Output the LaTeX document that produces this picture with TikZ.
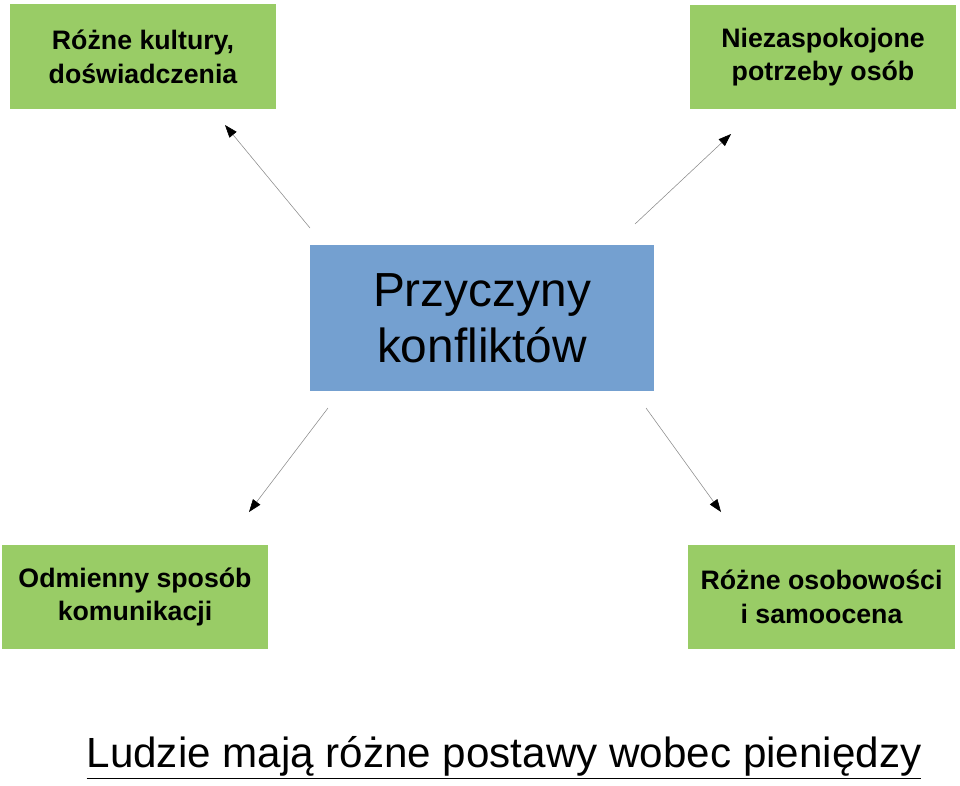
\documentclass[tikz,border=0pt]{standalone}
\usepackage{fontspec}
\setmainfont{Liberation Sans}
\usetikzlibrary{arrows.meta}
\definecolor{boxgreen}{RGB}{153,204,102}
\definecolor{boxblue}{RGB}{116,160,208}
\begin{document}
\begin{tikzpicture}[x=0.025cm, y=-0.025cm,
    greenbox/.style={fill=boxgreen, minimum width=6.65cm, minimum height=2.6cm,
      align=center, font=\fontsize{19}{24}\selectfont\bfseries},
    bluebox/.style={fill=boxblue, minimum width=8.6cm, minimum height=3.65cm,
      align=center, font=\fontsize{34}{40}\selectfont},
    arr/.style={draw=black!45, line width=0.4pt, -{Triangle[black, length=9pt, width=6.5pt]}}]
    \useasboundingbox (0,0) rectangle (960,785);
    % boxes
    \node[greenbox] (kult) at (143,56.5) {Różne kultury,\\doświadczenia};
    \node[greenbox] (potrz) at (823,57) {Niezaspokojone\\potrzeby osób};
    \node[bluebox] (przycz) at (482,318) {\raisebox{-3pt}{Przyczyny}\\\raisebox{-3pt}{konfliktów}};
    \node[greenbox] (komun) at (135,597) {Odmienny sposób\\komunikacji};
    \node[greenbox, minimum width=6.675cm] (osob) at (821.5,597) {Różne osobowości\\i samoocena};
    % arrow ends
    \coordinate (a1) at (310,228);
    \coordinate (b1) at (225,125);
    \coordinate (a2) at (635,224);
    \coordinate (b2) at (731,134);
    \coordinate (a3) at (328,408);
    \coordinate (b3) at (249,512);
    \coordinate (a4) at (646,408);
    \coordinate (b4) at (721,512);
    \draw[arr] (a1) -- (b1);
    \draw[arr] (a2) -- (b2);
    \draw[arr] (a3) -- (b3);
    \draw[arr] (a4) -- (b4);
    \node[font=\fontsize{30}{34}\selectfont] (tytul) at (504,758) {\underline{Ludzie mają różne postawy wobec pieniędzy}};
\end{tikzpicture}
\end{document}
